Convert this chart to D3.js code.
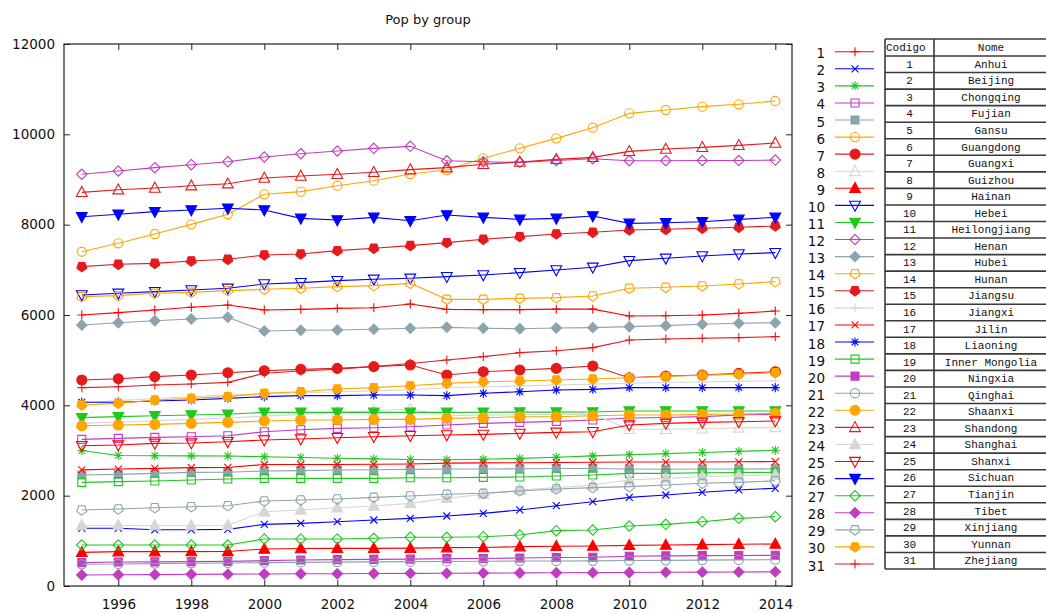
<!DOCTYPE html>
<html>
<head>
<meta charset="utf-8">
<script src="https://cdn.jsdelivr.net/npm/d3@7"></script>
<style>
  html, body { margin: 0; padding: 0; background: #fff; }
  svg { display: block; }
</style>
</head>
<body>
<svg id="chart" width="1046" height="613"></svg>
<script>
// ---- data: population by province (10k persons), 1995-2014 ----
const years = [1995, 1996, 1997, 1998, 1999, 2000, 2001, 2002, 2003, 2004,
               2005, 2006, 2007, 2008, 2009, 2010, 2011, 2012, 2013, 2014];
const xTicks = [1996, 1998, 2000, 2002, 2004, 2006, 2008, 2010, 2012, 2014];
const yTicks = [0, 2000, 4000, 6000, 8000, 10000, 12000];

const names = ["Anhui", "Beijing", "Chongqing", "Fujian", "Gansu", "Guangdong", "Guangxi",
  "Guizhou", "Hainan", "Hebei", "Heilongjiang", "Henan", "Hubei", "Hunan", "Jiangsu",
  "Jiangxi", "Jilin", "Liaoning", "Inner Mongolia", "Ningxia", "Qinghai", "Shaanxi",
  "Shandong", "Shanghai", "Shanxi", "Sichuan", "Tianjin", "Tibet", "Xinjiang", "Yunnan",
  "Zhejiang"];

const anhui        = [6000, 6052, 6110, 6170, 6221, 6110, 6125, 6147, 6162, 6243, 6125, 6120, 6120, 6130, 6130, 5977, 5985, 6000, 6037, 6088];
const beijing      = [1277, 1277, 1245, 1245, 1254, 1365, 1387, 1424, 1461, 1498, 1550, 1609, 1683, 1778, 1867, 1963, 2015, 2074, 2126, 2163];
const chongqing    = [3000, 2890, 2885, 2880, 2878, 2860, 2845, 2830, 2815, 2800, 2795, 2805, 2825, 2850, 2880, 2905, 2930, 2955, 2980, 3005];
const fujian       = [3247, 3269, 3291, 3306, 3328, 3416, 3460, 3490, 3505, 3527, 3564, 3601, 3623, 3645, 3675, 3720, 3730, 3749, 3786, 3800];
const gansu        = [2457, 2472, 2494, 2516, 2520, 2546, 2555, 2568, 2575, 2583, 2590, 2590, 2595, 2600, 2600, 2590, 2585, 2590, 2590, 2595];
const guangdong    = [7402, 7587, 7793, 8007, 8229, 8672, 8731, 8863, 8974, 9122, 9210, 9469, 9690, 9911, 10147, 10465, 10539, 10613, 10665, 10739];
const guangxi      = [4561, 4590, 4635, 4672, 4723, 4767, 4797, 4818, 4856, 4893, 4672, 4745, 4782, 4818, 4870, 4612, 4649, 4672, 4708, 4745];
const guizhou      = [3600, 3630, 3660, 3690, 3720, 3760, 3800, 3840, 3880, 3920, 3770, 3780, 3790, 3800, 3800, 3470, 3470, 3480, 3500, 3510];
const hainan       = [745, 760, 760, 762, 765, 819, 830, 834, 834, 838, 849, 852, 871, 880, 886, 900, 908, 915, 925, 930];
const hebei        = [6443, 6480, 6517, 6554, 6591, 6687, 6716, 6760, 6790, 6812, 6849, 6886, 6938, 6997, 7056, 7203, 7255, 7307, 7351, 7380];
const heilongjiang = [3727, 3749, 3771, 3786, 3801, 3845, 3845, 3845, 3845, 3845, 3845, 3848, 3850, 3850, 3852, 3875, 3875, 3875, 3875, 3875];
const henan        = [9115, 9188, 9262, 9328, 9394, 9498, 9571, 9631, 9690, 9734, 9416, 9392, 9380, 9420, 9460, 9416, 9416, 9420, 9420, 9430];
const hubei        = [5779, 5830, 5874, 5911, 5948, 5646, 5661, 5668, 5683, 5705, 5727, 5705, 5697, 5712, 5720, 5742, 5764, 5794, 5816, 5830];
const hunan        = [6406, 6428, 6480, 6502, 6539, 6569, 6591, 6628, 6650, 6701, 6347, 6347, 6369, 6384, 6421, 6591, 6613, 6643, 6687, 6738];
const jiangsu      = [7070, 7122, 7144, 7196, 7233, 7329, 7351, 7425, 7477, 7536, 7602, 7676, 7735, 7794, 7831, 7883, 7897, 7920, 7942, 7971];
const jiangxi      = [4063, 4105, 4150, 4191, 4231, 4250, 4280, 4300, 4320, 4345, 4390, 4410, 4430, 4450, 4470, 4490, 4505, 4515, 4530, 4545];
const jilin        = [2570, 2590, 2605, 2620, 2625, 2690, 2690, 2690, 2695, 2700, 2720, 2725, 2730, 2735, 2740, 2745, 2745, 2745, 2750, 2755];
const liaoning     = [4067, 4067, 4096, 4118, 4155, 4192, 4214, 4214, 4229, 4229, 4214, 4266, 4302, 4339, 4354, 4391, 4391, 4391, 4391, 4391];
const innerMongolia= [2295, 2310, 2324, 2346, 2369, 2383, 2383, 2383, 2383, 2398, 2398, 2405, 2413, 2435, 2457, 2494, 2494, 2509, 2512, 2516];
const ningxia      = [517, 530, 535, 540, 545, 561, 575, 585, 590, 595, 605, 610, 620, 630, 635, 660, 668, 672, 676, 680];
const qinghai      = [480, 488, 496, 503, 510, 517, 523, 529, 534, 539, 543, 548, 552, 554, 557, 563, 568, 573, 578, 583];
const shaanxi      = [3549, 3563, 3578, 3600, 3622, 3652, 3674, 3674, 3689, 3689, 3711, 3726, 3748, 3748, 3770, 3785, 3785, 3800, 3808, 3822];
const shandong     = [8716, 8774, 8812, 8863, 8907, 9033, 9077, 9115, 9159, 9218, 9262, 9336, 9387, 9446, 9490, 9623, 9675, 9712, 9756, 9808];
const shanghai     = [1340, 1340, 1340, 1340, 1345, 1645, 1682, 1734, 1771, 1830, 1941, 2030, 2126, 2178, 2237, 2347, 2383, 2420, 2442, 2457];
const shanxi       = [3106, 3121, 3158, 3165, 3195, 3232, 3254, 3283, 3306, 3328, 3343, 3357, 3379, 3402, 3416, 3564, 3601, 3623, 3638, 3652];
const sichuan      = [8176, 8229, 8288, 8325, 8362, 8325, 8140, 8103, 8162, 8088, 8214, 8162, 8118, 8140, 8192, 8029, 8044, 8066, 8118, 8162];
const tianjin      = [908, 908, 908, 908, 908, 1041, 1041, 1041, 1056, 1078, 1078, 1092, 1129, 1225, 1240, 1328, 1365, 1424, 1498, 1535];
const tibet        = [244, 250, 252, 258, 262, 265, 270, 272, 276, 280, 283, 286, 290, 293, 296, 300, 303, 307, 310, 315];
const xinjiang     = [1683, 1705, 1734, 1756, 1778, 1882, 1904, 1926, 1963, 1993, 2030, 2052, 2104, 2148, 2178, 2200, 2237, 2274, 2295, 2330];
const yunnan       = [4007, 4044, 4118, 4155, 4192, 4266, 4302, 4362, 4391, 4435, 4487, 4523, 4539, 4561, 4583, 4610, 4640, 4665, 4690, 4720];
const zhejiang     = [4391, 4413, 4450, 4472, 4509, 4709, 4760, 4800, 4860, 4925, 5004, 5078, 5166, 5210, 5277, 5447, 5469, 5484, 5498, 5521];

const seriesValues = [anhui, beijing, chongqing, fujian, gansu, guangdong, guangxi, guizhou,
  hainan, hebei, heilongjiang, henan, hubei, hunan, jiangsu, jiangxi, jilin, liaoning,
  innerMongolia, ningxia, qinghai, shaanxi, shandong, shanghai, shanxi, sichuan, tianjin,
  tibet, xinjiang, yunnan, zhejiang];

// ---- styling: colour cycle of 8, point-type cycle of 15 ----
const palette = ["#ff0000", "#0000ff", "#1ec81e", "#c03cc0", "#8ca4ac", "#ffa500", "#e41a1c", "#d6d6d6"];
const pointTypes = ["plus", "cross", "star", "square", "squareF", "circle", "circleF",
  "tri", "triF", "itri", "itriF", "diamond", "diamondF", "pent", "pentF"];

function markerPath(type) {
  const poly = pts => "M" + pts.map(p => p[0].toFixed(2) + "," + p[1].toFixed(2)).join("L") + "Z";
  switch (type.replace(/F$/, "")) {
    case "plus":    return "M-4.5,0L4.5,0M0,-4.5L0,4.5";
    case "cross":   return "M-3.5,-3.5L3.5,3.5M-3.5,3.5L3.5,-3.5";
    case "star":    return "M-4.5,0L4.5,0M0,-4.5L0,4.5M-3.3,-3.3L3.3,3.3M-3.3,3.3L3.3,-3.3";
    case "square":  return poly([[-4, -4], [4, -4], [4, 4], [-4, 4]]);
    case "circle": {
      const r = type.endsWith("F") ? 5 : 4.6;
      return `M${r},0A${r},${r} 0 1 1 ${-r},0A${r},${r} 0 1 1 ${r},0Z`;
    }
    case "tri":     return poly([[0, -5.8], [5.4, 4.2], [-5.4, 4.2]]);
    case "itri":    return poly([[0, 5.8], [5.4, -4.2], [-5.4, -4.2]]);
    case "diamond": return poly([[0, -5.2], [5.2, 0], [0, 5.2], [-5.2, 0]]);
    case "pent": {
      const pts = [];
      for (let k = 0; k < 5; k++) {
        const a = Math.PI / 2 + k * 2 * Math.PI / 5;
        pts.push([5.2 * Math.cos(a), 5.2 * Math.sin(a)]);
      }
      return poly(pts);
    }
  }
  return "";
}

function addMarker(g, type, color, cx, cy) {
  const filled = type.endsWith("F");
  g.append("path")
    .attr("d", markerPath(type))
    .attr("transform", `translate(${cx},${cy})`)
    .attr("fill", filled ? color : "none")
    .attr("stroke", color)
    .attr("stroke-width", 1.1);
}

// ---- layout ----
const svg = d3.select("#chart");
const frame = { left: 64, right: 792, top: 44, bottom: 586 };
const x = d3.scaleLinear().domain([1996, 2014]).range([118.3, 775.3]);
const y = d3.scaleLinear().domain([0, 12000]).range([frame.bottom, frame.top]);
const axisFont = "'DejaVu Sans', Verdana, sans-serif";

// title
svg.append("text")
  .attr("x", 428).attr("y", 19)
  .attr("text-anchor", "middle").attr("dominant-baseline", "central")
  .style("font-family", axisFont).style("font-size", "13px").attr("fill", "#111")
  .text("Pop by group");

// axes with inward ticks, mirrored on the top and right edges
function styleAxis(g) {
  g.select(".domain").remove();
  g.selectAll(".tick line").attr("stroke", "#222").attr("stroke-width", 1);
  g.selectAll(".tick text").style("font-family", axisFont).style("font-size", "13.5px").attr("fill", "#111");
}
svg.append("g").attr("transform", `translate(0,${frame.bottom})`)
  .call(d3.axisBottom(x).tickValues(xTicks).tickFormat(d3.format("d")).tickSize(-6).tickPadding(13))
  .call(styleAxis);
svg.append("g").attr("transform", `translate(0,${frame.top})`)
  .call(d3.axisTop(x).tickValues(xTicks).tickFormat("").tickSize(-6))
  .call(styleAxis);
svg.append("g").attr("transform", `translate(${frame.left},0)`)
  .call(d3.axisLeft(y).tickValues(yTicks).tickFormat(d3.format("d")).tickSize(-6).tickPadding(9))
  .call(styleAxis);
svg.append("g").attr("transform", `translate(${frame.right},0)`)
  .call(d3.axisRight(y).tickValues(yTicks).tickFormat("").tickSize(-6))
  .call(styleAxis);

// series: line first, then its points, later series drawn on top
const line = d3.line().x((d, i) => x(years[i])).y(d => y(d));
const plot = svg.append("g");
seriesValues.forEach((vals, s) => {
  const color = palette[s % palette.length];
  const type = pointTypes[s % pointTypes.length];
  const g = plot.append("g");
  g.append("path").datum(vals).attr("d", line)
    .attr("fill", "none").attr("stroke", color).attr("stroke-width", 1.1);
  vals.forEach((v, i) => addMarker(g, type, color, x(years[i]), y(v)));
});

// plot border
svg.append("rect")
  .attr("x", frame.left).attr("y", frame.top)
  .attr("width", frame.right - frame.left).attr("height", frame.bottom - frame.top)
  .attr("fill", "none").attr("stroke", "#222").attr("stroke-width", 1.2);

// key: code number, line sample and point
const keyY = d3.scaleLinear().domain([1, 31]).range([51.7, 564]);
const key = svg.append("g");
seriesValues.forEach((vals, s) => {
  const color = palette[s % palette.length];
  const type = pointTypes[s % pointTypes.length];
  const yy = keyY(s + 1);
  key.append("text")
    .attr("x", 825).attr("y", yy + 1.5)
    .attr("text-anchor", "end").attr("dominant-baseline", "central")
    .style("font-family", axisFont).style("font-size", "13.5px").attr("fill", "#111")
    .text(s + 1);
  key.append("line").attr("x1", 835).attr("x2", 874).attr("y1", yy).attr("y2", yy)
    .attr("stroke", color).attr("stroke-width", 1.1);
  addMarker(key, type, color, 855, yy);
});

// lookup table: code -> province name
const tableFont = "'Liberation Mono', 'DejaVu Sans Mono', monospace";
const tbl = { left: 885, mid: 934, right: 1048, top: 39, head: 56, bottom: 569 };
const rowY = d3.scaleLinear().domain([0, names.length]).range([tbl.head, tbl.bottom]);
const table = svg.append("g");
const hLines = [tbl.top].concat(d3.range(0, names.length + 1).map(k => rowY(k)));
table.selectAll("line.h").data(hLines).join("line")
  .attr("x1", tbl.left).attr("x2", tbl.right).attr("y1", d => d).attr("y2", d => d)
  .attr("stroke", "#3a3a3a").attr("stroke-width", 1.6);
table.selectAll("line.v").data([tbl.left, tbl.mid, tbl.right]).join("line")
  .attr("x1", d => d).attr("x2", d => d).attr("y1", tbl.top).attr("y2", tbl.bottom)
  .attr("stroke", "#3a3a3a").attr("stroke-width", 1.6);

const headY = (tbl.top + tbl.head) / 2;
table.append("text").attr("x", tbl.left + 1).attr("y", headY + 0.5)
  .attr("dominant-baseline", "central")
  .style("font-family", tableFont).style("font-size", "11px").attr("fill", "#111")
  .text("Codigo");
table.append("text").attr("x", 991).attr("y", headY + 0.5)
  .attr("text-anchor", "middle").attr("dominant-baseline", "central")
  .style("font-family", tableFont).style("font-size", "11px").attr("fill", "#111")
  .text("Nome");
names.forEach((n, k) => {
  const cy = (rowY(k) + rowY(k + 1)) / 2 + 0.5;
  table.append("text").attr("x", (tbl.left + tbl.mid) / 2).attr("y", cy)
    .attr("text-anchor", "middle").attr("dominant-baseline", "central")
    .style("font-family", tableFont).style("font-size", "11px").attr("fill", "#111")
    .text(k + 1);
  table.append("text").attr("x", 991).attr("y", cy)
    .attr("text-anchor", "middle").attr("dominant-baseline", "central")
    .style("font-family", tableFont).style("font-size", "11px").attr("fill", "#111")
    .text(n);
});
</script>
</body>
</html>
